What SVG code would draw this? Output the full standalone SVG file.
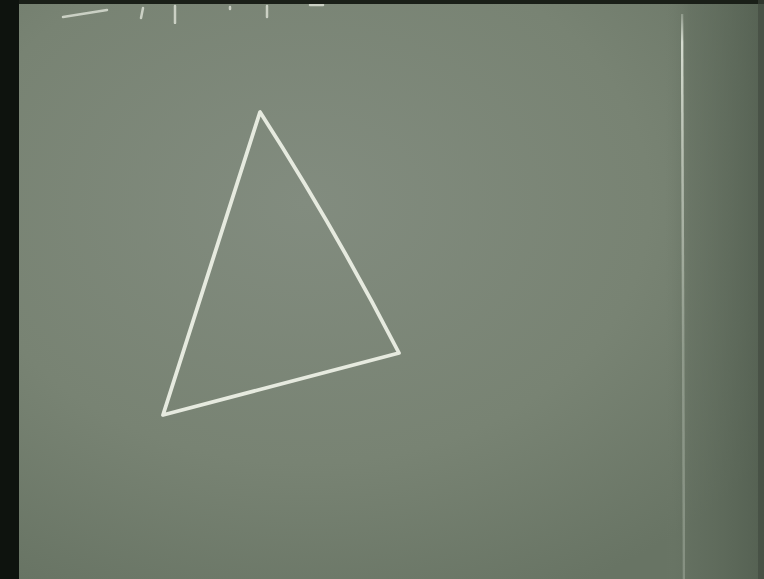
<svg xmlns="http://www.w3.org/2000/svg" width="764" height="579" viewBox="0 0 764 579">
<defs>
<radialGradient id="board" cx="0.4" cy="0.35" r="0.75">
<stop offset="0" stop-color="#828c7f"/>
<stop offset="0.6" stop-color="#788373"/>
<stop offset="1" stop-color="#687464"/>
</radialGradient>
<linearGradient id="right" x1="0" y1="0" x2="1" y2="0">
<stop offset="0" stop-color="#6e7a6a" stop-opacity="0"/>
<stop offset="0.25" stop-color="#5f6b5c" stop-opacity="0.5"/>
<stop offset="1" stop-color="#4e5a4c" stop-opacity="0.75"/>
</linearGradient>
<linearGradient id="vline" x1="0" y1="0" x2="0" y2="1">
<stop offset="0" stop-color="#dfe6da" stop-opacity="0.3"/>
<stop offset="0.05" stop-color="#e6ece0" stop-opacity="0.85"/>
<stop offset="0.25" stop-color="#e6ece0" stop-opacity="0.6"/>
<stop offset="0.6" stop-color="#cfd8cb" stop-opacity="0.35"/>
<stop offset="1" stop-color="#cfd8cb" stop-opacity="0.3"/>
</linearGradient>
<filter id="soft" x="-5%" y="-5%" width="110%" height="110%">
<feGaussianBlur stdDeviation="0.7"/>
</filter>
</defs>
<style>
.chalk{fill:none;stroke:#e6eadf;stroke-linecap:round;stroke-linejoin:round}
</style>
<rect x="0" y="0" width="764" height="579" fill="url(#board)"/>
<rect x="665" y="0" width="99" height="579" fill="url(#right)"/>
<rect x="0" y="0" width="764" height="4" fill="#1a1f18"/>
<rect x="0" y="0" width="19" height="579" fill="#0e130e"/>
<rect x="758" y="0" width="6" height="579" fill="#3f483d" opacity="0.6"/>
<g id="top-marks" class="chalk" stroke-width="2.5" opacity="0.75" filter="url(#soft)">
<path d="M63 17 L107 10"/>
<path d="M143 8 L141 18"/>
<path d="M175 6 L175 23"/>
<path d="M230 7 L230 9"/>
<path d="M267 6 L267 17"/>
<path d="M310 5 L323 5"/>
</g>
<g id="board-edge">
<line x1="682" y1="14" x2="684" y2="579" stroke="url(#vline)" stroke-width="2.5" filter="url(#soft)"/>
</g>
<g id="triangle" class="chalk" stroke-width="3.8" filter="url(#soft)">
<path d="M260 112 L163 415 L399 353 Q334 227 260 112 Z"/>
</g>
</svg>
